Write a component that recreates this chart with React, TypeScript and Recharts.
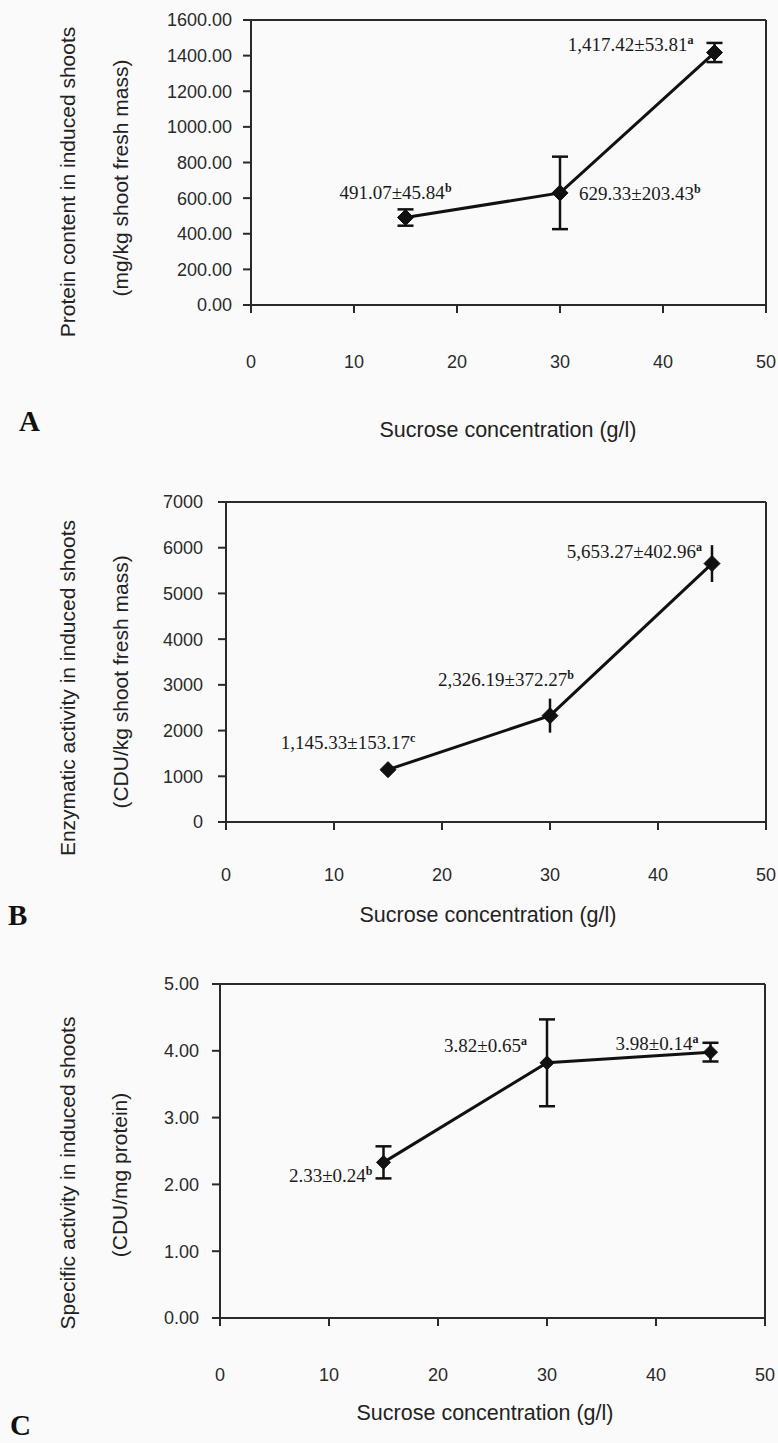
import React from 'react';
import { LineChart, Line, XAxis, YAxis, ErrorBar, ReferenceLine, LabelList, Label } from 'recharts';

// ---------- data ----------
const sucrose = [15, 30, 45];
const xTicks = [0, 10, 20, 30, 40, 50];

const proteinMean = [491.07, 629.33, 1417.42];
const proteinSE = [45.84, 203.43, 53.81];
const proteinLetters = ['b', 'b', 'a'];
const proteinTicks = [0, 200, 400, 600, 800, 1000, 1200, 1400, 1600];

const enzymeMean = [1145.33, 2326.19, 5653.27];
const enzymeSE = [153.17, 372.27, 402.96];
const enzymeLetters = ['c', 'b', 'a'];
const enzymeTicks = [0, 1000, 2000, 3000, 4000, 5000, 6000, 7000];

const specificMean = [2.33, 3.82, 3.98];
const specificSE = [0.24, 0.65, 0.14];
const specificLetters = ['b', 'a', 'a'];
const specificTicks = [0, 1, 2, 3, 4, 5];

const xTitle = 'Sucrose concentration (g/l)';

// ---------- helpers ----------
const fmt = (v: number) =>
  v.toLocaleString('en-US', { minimumFractionDigits: 2, maximumFractionDigits: 2 });

const build = (means: number[], ses: number[], letters: string[]) =>
  sucrose.map((x, i) => ({
    x,
    mean: means[i],
    se: ses[i],
    text: `${fmt(means[i])}±${fmt(ses[i])}`,
    letter: letters[i],
  }));

const SANS = '"Liberation Sans", Arial, sans-serif';
const SERIF = '"Liberation Serif", "Times New Roman", serif';
const AXIS = '#2a2a2a';
const INK = '#111';

type Off = { dx: number; dy: number; anchor: 'start' | 'middle' | 'end' };

type PanelProps = {
  top: number;
  height: number;
  plot: { left: number; right: number; top: number; bottom: number };
  data: any[];
  yTicks: number[];
  decimals: number;
  yTitle: [string, string];
  yTitleX: [number, number];
  yTitleY: [number, number];
  xTitleX: number;
  xTitleY: number;
  letter: string;
  letterX: number;
  letterY: number;
  offsets: Off[];
  errWidth: number;
  yTickMargin: number;
  xTickMargin: number;
  dotR: number;
};

const Panel = (p: PanelProps) => {
  const W = 778;
  const yAxisW = 60;
  const xAxisH = 30;
  const yMax = p.yTicks[p.yTicks.length - 1];
  const margin = {
    top: p.plot.top,
    left: p.plot.left - yAxisW,
    right: W - p.plot.right,
    bottom: p.height - p.plot.bottom - xAxisH,
  };
  const diamond = (props: any) => {
    const { cx, cy, index } = props;
    const r = p.dotR;
    return (
      <path
        key={`d${index}`}
        d={`M${cx},${cy - r}L${cx + r},${cy}L${cx},${cy + r}L${cx - r},${cy}Z`}
        fill={INK}
        stroke={INK}
        strokeWidth={1}
      />
    );
  };
  const anno = (props: any) => {
    const { x, y, index } = props;
    const row = p.data[index];
    const o = p.offsets[index];
    return (
      <text
        key={`t${index}`}
        x={x + o.dx}
        y={y + o.dy}
        textAnchor={o.anchor}
        fontFamily={SERIF}
        fontSize={19}
        fill="#1a1a1a"
      >
        {row.text}
        <tspan dy={-7} fontSize={12} fontWeight="bold">
          {row.letter}
        </tspan>
      </text>
    );
  };
  return (
    <div style={{ position: 'absolute', left: 0, top: p.top, width: W, height: p.height }}>
      <LineChart width={W} height={p.height} data={p.data} margin={margin}>
        <XAxis
          dataKey="x"
          type="number"
          domain={[0, 50]}
          ticks={xTicks}
          height={xAxisH}
          axisLine={{ stroke: AXIS, strokeWidth: 2 }}
          tickLine={{ stroke: AXIS, strokeWidth: 2 }}
          tickSize={8}
          tickMargin={p.xTickMargin}
          tick={{ fill: '#2a2a2a', fontFamily: SANS, fontSize: 18 }}
          interval={0}
        >
          <Label
            content={() => (
              <g>
                <text
                  x={p.xTitleX}
                  y={p.xTitleY}
                  textAnchor="middle"
                  fontFamily={SANS}
                  fontSize={21.5}
                  fill="#222"
                >
                  {xTitle}
                </text>
                <text
                  x={p.letterX}
                  y={p.letterY}
                  fontFamily={SERIF}
                  fontWeight="bold"
                  fontSize={29}
                  fill="#111"
                >
                  {p.letter}
                </text>
              </g>
            )}
          />
        </XAxis>
        <YAxis
          type="number"
          domain={[0, yMax]}
          ticks={p.yTicks}
          width={yAxisW}
          axisLine={{ stroke: AXIS, strokeWidth: 2 }}
          tickLine={{ stroke: AXIS, strokeWidth: 2 }}
          tickSize={8}
          tickMargin={p.yTickMargin}
          tickFormatter={(v: number) => v.toFixed(p.decimals)}
          tick={{ fill: '#2a2a2a', fontFamily: SANS, fontSize: 18 }}
          interval={0}
        >
          <Label
            content={() => (
              <g>
                <text
                  transform={`translate(${p.yTitleX[0]},${p.yTitleY[0]}) rotate(-90)`}
                  textAnchor="middle"
                  dominantBaseline="central"
                  fontFamily={SANS}
                  fontSize={21}
                  fill="#222"
                >
                  {p.yTitle[0]}
                </text>
                <text
                  transform={`translate(${p.yTitleX[1]},${p.yTitleY[1]}) rotate(-90)`}
                  textAnchor="middle"
                  dominantBaseline="central"
                  fontFamily={SANS}
                  fontSize={21}
                  fill="#222"
                >
                  {p.yTitle[1]}
                </text>
              </g>
            )}
          />
        </YAxis>
        <ReferenceLine y={yMax} stroke={AXIS} strokeWidth={2} ifOverflow="visible" />
        <ReferenceLine x={50} stroke={AXIS} strokeWidth={2} ifOverflow="visible" />
        <Line
          dataKey="mean"
          stroke={INK}
          strokeWidth={3}
          dot={diamond}
          activeDot={false}
          isAnimationActive={false}
        >
          <ErrorBar
            dataKey="se"
            direction="y"
            width={p.errWidth}
            stroke={INK}
            strokeWidth={2.5}
            isAnimationActive={false}
          />
          <LabelList dataKey="mean" content={anno} />
        </Line>
      </LineChart>
    </div>
  );
};

const dataA = build(proteinMean, proteinSE, proteinLetters);
const dataB = build(enzymeMean, enzymeSE, enzymeLetters);
const dataC = build(specificMean, specificSE, specificLetters);

export default function App() {
  return (
    <div
      style={{
        position: 'absolute',
        left: 0,
        top: 0,
        width: 778,
        height: 1443,
        background: '#fafafa',
        overflow: 'hidden',
      }}
    >
      <Panel
        top={0}
        height={445}
        plot={{ left: 251, right: 766, top: 20, bottom: 305 }}
        data={dataA}
        yTicks={proteinTicks}
        decimals={2}
        yTitle={['Protein content in induced shoots', '(mg/kg shoot fresh mass)']}
        yTitleX={[67, 120]}
        yTitleY={[182, 178]}
        xTitleX={508}
        xTitleY={437}
        letter="A"
        letterX={19}
        letterY={431}
        offsets={[
          { dx: -10, dy: -19, anchor: 'middle' },
          { dx: 19, dy: 7, anchor: 'start' },
          { dx: -21, dy: -2, anchor: 'end' },
        ]}
        errWidth={8}
        yTickMargin={11}
        xTickMargin={42}
        dotR={8}
      />
      <Panel
        top={445}
        height={485}
        plot={{ left: 226, right: 766, top: 57, bottom: 377 }}
        data={dataB}
        yTicks={enzymeTicks}
        decimals={0}
        yTitle={['Enzymatic activity in induced shoots', '(CDU/kg shoot fresh mass)']}
        yTitleX={[67, 120]}
        yTitleY={[243, 237]}
        xTitleX={488}
        xTitleY={477}
        letter="B"
        letterX={8}
        letterY={480}
        offsets={[
          { dx: -40, dy: -21, anchor: 'middle' },
          { dx: -44, dy: -30, anchor: 'middle' },
          { dx: -10, dy: -6, anchor: 'end' },
        ]}
        errWidth={0}
        yTickMargin={15}
        xTickMargin={38}
        dotR={8}
      />
      <Panel
        top={930}
        height={513}
        plot={{ left: 220, right: 765, top: 54, bottom: 388 }}
        data={dataC}
        yTicks={specificTicks}
        decimals={2}
        yTitle={['Specific activity in induced shoots', '(CDU/mg protein)']}
        yTitleX={[67, 119]}
        yTitleY={[243, 245]}
        xTitleX={485}
        xTitleY={490}
        letter="C"
        letterX={10}
        letterY={505}
        offsets={[
          { dx: -11, dy: 20, anchor: 'end' },
          { dx: -20, dy: -11, anchor: 'end' },
          { dx: -12, dy: -2, anchor: 'end' },
        ]}
        errWidth={8}
        yTickMargin={13}
        xTickMargin={42}
        dotR={7}
      />
    </div>
  );
}
